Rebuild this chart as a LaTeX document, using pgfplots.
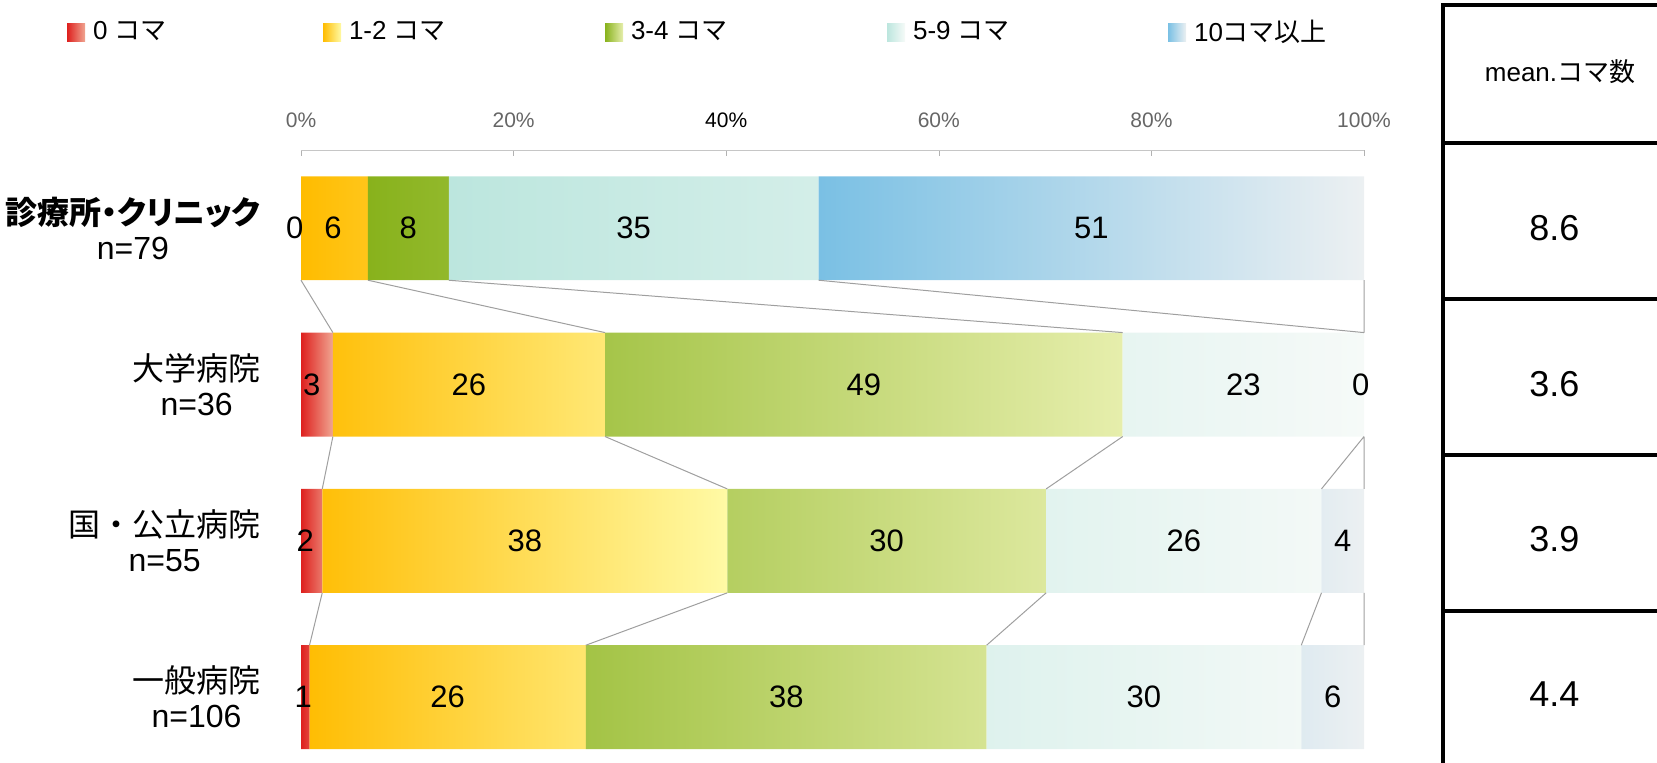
\documentclass[border=0pt]{standalone}
\usepackage{pgfplots}
\usepackage{pgfplotstable}
\pgfplotsset{compat=1.18}
\usepackage{fontspec}
\setmainfont{Liberation Sans}
\newfontfamily\jp{Noto Sans CJK JP}
\newfontfamily\jpp[RawFeature=+palt]{Noto Sans CJK JP}
\definecolor{redA}{RGB}{222,32,30}
\definecolor{redB}{RGB}{240,165,145}
\definecolor{yelA}{RGB}{255,188,0}
\definecolor{yelB}{RGB}{255,250,165}
\definecolor{grnA}{RGB}{136,178,28}
\definecolor{grnB}{RGB}{230,238,172}
\definecolor{cyaA}{RGB}{188,230,222}
\definecolor{cyaB}{RGB}{246,250,248}
\definecolor{bluA}{RGB}{122,192,228}
\definecolor{bluB}{RGB}{236,240,242}

\pgfplotstableread{
y red yel grn cya blu
0 0   6.3  7.6  34.8 51.3
1 3.0 25.6 48.7 22.7 0
2 2.0 38.1 30.0 25.9 4.0
3 0.8 26.0 37.7 29.6 5.9
}\data

\pgfplotstableread{
x y
0 0.3325
3.0 0.6675
nan nan
6.3 0.3325
28.6 0.6675
nan nan
13.9 0.3325
77.3 0.6675
nan nan
48.7 0.3325
100 0.6675
nan nan
100 0.3325
100 0.6675
nan nan
3.0 1.3325
2.0 1.6675
nan nan
28.6 1.3325
40.1 1.6675
nan nan
77.3 1.3325
70.1 1.6675
nan nan
100 1.3325
96.0 1.6675
nan nan
100 1.3325
100 1.6675
nan nan
2.0 2.3325
0.8 2.6675
nan nan
40.1 2.3325
26.8 2.6675
nan nan
70.1 2.3325
64.5 2.6675
nan nan
96.0 2.3325
94.1 2.6675
nan nan
100 2.3325
100 2.6675
}\links

\pgfplotstableread{
x y lab
-0.6 0 0
3.0 0 6
10.1 0 8
31.3 0 35
74.35 0 51
1.0 1 3
15.8 1 26
52.95 1 49
88.65 1 23
99.7 1 0
0.4 2 2
21.05 2 38
55.1 2 30
83.05 2 26
98.0 2 4
0.2 3 1
13.8 3 26
45.65 3 38
79.3 3 30
97.05 3 6
}\labels

\pgfplotstableread{
x y lab
117.9 0.0 8.6
117.9 1.0 3.6
117.9 1.99 3.9
117.9 2.98 4.4
}\means

\pgfplotsset{
  seg/.style n args={2}{xbar stacked, bar width=0.665, draw=none, left color=#1, right color=#2,
    legend image code/.code={\fill[left color=#1, right color=#2] (0pt,-4.5pt) rectangle (9pt,4.5pt);}},
}

\begin{document}
\begin{tikzpicture}
\useasboundingbox (0,0) rectangle (828.5pt,381.5pt);
\begin{axis}[
  at={(150.5pt,1.65pt)}, anchor=south west,
  scale only axis, width=531.5pt, height=304.8pt,
  xmin=0, xmax=100, ymin=-0.5, ymax=3.4, y dir=reverse,
  axis x line*=top, axis y line*=left,
  x axis line style={draw=gray!45, -},
  y axis line style={draw=none},
  xtick={0,20,40,60,80,100},
  xticklabels={0\%,20\%,\textcolor{black}{40\%},60\%,80\%,100\%},
  xticklabel style={font=\fontsize{10.5}{12}\selectfont, text=black!60, yshift=7.5pt},
  xtick style={draw=gray!60},
  tick align=inside, major tick length=3pt,
  ytick={0,1,2,3}, ytick style={draw=none},
  yticklabels={{{\jpp\bfseries 診療所・クリニック}\\n=79},{{\jp 大学病院}\\n=36},{{\jp 国・公立病院}\\n=55},{{\jp 一般病院}\\n=106}},
  yticklabel style={align=center, font=\fontsize{16}{17.5}\selectfont, inner sep=0pt, xshift=-20pt},
  clip=false,
  legend columns=5,
  legend style={at={(-0.2201,1.1937)}, anchor=west, draw=none, fill=none,
    inner sep=0pt, outer sep=0pt, column sep=0pt,
    font=\fontsize{13}{15}\selectfont,
    nodes={inner sep=0pt, outer sep=0pt}},
]
\addplot[seg={redA}{redB}] table[x=red,y=y]{\data};
\addlegendentry{\makebox[119pt][l]{\hspace{4pt}0 {\jp コマ}}}
\addplot[seg={yelA}{yelB}] table[x=yel,y=y]{\data};
\addlegendentry{\makebox[132pt][l]{\hspace{4pt}1-2 {\jp コマ}}}
\addplot[seg={grnA}{grnB}] table[x=grn,y=y]{\data};
\addlegendentry{\makebox[132pt][l]{\hspace{4pt}3-4 {\jp コマ}}}
\addplot[seg={cyaA}{cyaB}] table[x=cya,y=y]{\data};
\addlegendentry{\makebox[131.5pt][l]{\hspace{4pt}5-9 {\jp コマ}}}
\addplot[seg={bluA}{bluB}] table[x=blu,y=y]{\data};
\addlegendentry{\makebox[90pt][l]{\hspace{4pt}10{\jp コマ以上}}}

\addplot[forget plot, draw=gray!75, line width=0.5pt,
  unbounded coords=jump, mark=none] table[x=x,y=y]{\links};

\addplot[forget plot, draw=none, mark=none,
  nodes near coords, point meta=explicit symbolic,
  every node near coord/.append style={anchor=center, font=\fontsize{15.5}{17}\selectfont, text=black, inner sep=0pt}]
  table[x=x,y=y,meta=lab]{\labels};

\addplot[forget plot, draw=none, mark=none,
  nodes near coords, point meta=explicit symbolic,
  every node near coord/.append style={anchor=center, font=\fontsize{18}{20}\selectfont, text=black, inner sep=0pt}]
  table[x=x,y=y,meta=lab]{\means};
\end{axis}
\draw[line width=2pt] (721.5pt,-2pt) -- (721.5pt,380pt);
\foreach \yy in {379,310,232,154,76} \draw[line width=2pt] (720.5pt,\yy pt) -- (830pt,\yy pt);
\node[font=\fontsize{13}{15}\selectfont, inner sep=0pt] at (780pt,345.5pt) {mean.{\jp コマ数}};
\end{tikzpicture}
\end{document}
